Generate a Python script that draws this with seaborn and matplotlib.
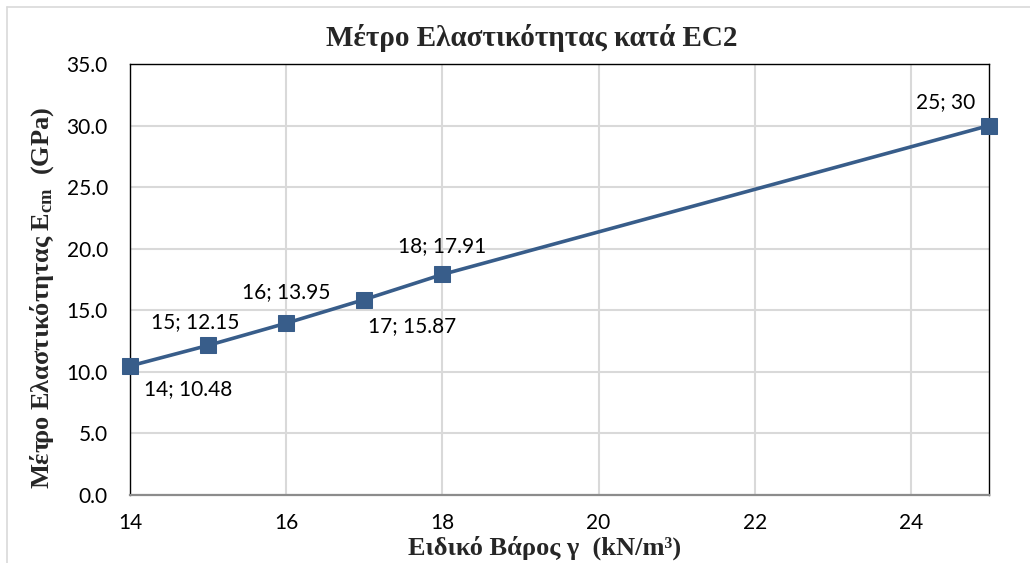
import matplotlib
matplotlib.use("Agg")
import matplotlib.pyplot as plt
import seaborn as sns
import pandas as pd
from matplotlib.lines import Line2D

# Data
gamma = [14, 15, 16, 17, 18, 25]
ecm = [10.48, 12.15, 13.95, 15.87, 17.91, 30]
point_labels = ["14; 10.48", "15; 12.15", "16; 13.95", "17; 15.87", "18; 17.91", "25; 30"]
x_ticks = [14, 16, 18, 20, 22, 24]
y_ticks = [0, 5, 10, 15, 20, 25, 30, 35]

title = "Μέτρο Ελαστικότητας κατά EC2"
xlabel = "Ειδικό Βάρος γ  (kN/m³)"
ylabel = r"Μέτρο Ελαστικότητας E$_{\rm cm}$  (GPa)"

sns.set_theme(style="white")
plt.rcParams["font.family"] = ["Lato", "DejaVu Sans"]
plt.rcParams["mathtext.fontset"] = "custom"
plt.rcParams["mathtext.rm"] = "Liberation Serif:bold"
plt.rcParams["mathtext.it"] = "Liberation Serif:bold"
plt.rcParams["mathtext.bf"] = "Liberation Serif:bold"

df = pd.DataFrame({"gamma": gamma, "ecm": ecm})

fig = plt.figure(figsize=(10.30, 5.63), dpi=100)
ax = fig.add_axes([130/1030, 1-495/563, (989-130)/1030, (495-64)/563])

line_color = "#385D8A"
sns.lineplot(data=df, x="gamma", y="ecm", ax=ax, color=line_color, linewidth=2.6,
             marker="s", markersize=11, markeredgecolor=line_color, markerfacecolor=line_color,
             clip_on=False, zorder=5)

ax.set_xlim(14, 25)
ax.set_ylim(0, 35)
ax.set_xticks(x_ticks)
ax.set_yticks(y_ticks)
ax.set_xticklabels([str(t) for t in x_ticks], fontsize=15)
ax.set_yticklabels([f"{t:.1f}" for t in y_ticks], fontsize=15)
ax.tick_params(axis="both", length=0, colors="black")
ax.tick_params(axis="x", pad=13)
ax.tick_params(axis="y", pad=16)

ax.grid(True, color="#d9d9d9", linewidth=1.5)
ax.set_axisbelow(True)

for s in ["left", "top", "right"]:
    ax.spines[s].set_color("black")
    ax.spines[s].set_linewidth(1.0)
    ax.spines[s].set_visible(True)
ax.spines["bottom"].set_color("#8c8c8c")
ax.spines["bottom"].set_linewidth(1.6)

offsets = [(58, -23), (-13, 23), (0, 31), (48, -27), (0, 28), (-43, 23)]
for x, y, lab, off in zip(gamma, ecm, point_labels, offsets):
    ax.annotate(lab, (x, y), xytext=off, textcoords="offset pixels",
                ha="center", va="center", fontsize=15, color="black")

ax.set_xlabel("")
ax.set_ylabel("")
fig.text(532/1030, 1-38/563, title, ha="center", va="center",
         fontsize=21, fontweight="bold", family="Liberation Serif")
fig.text(545/1030, 1-548/563, xlabel, ha="center", va="center",
         fontsize=19, fontweight="bold", family="Liberation Serif")
fig.text(42/1030, 1-298/563, ylabel, ha="center", va="center", rotation=90,
         fontsize=19, fontweight="bold", family="Liberation Serif")

# light frame around the chart area
fig.add_artist(Line2D([7/1030, 1], [1-7/563, 1-7/563], transform=fig.transFigure,
                      color="#d9d9d9", linewidth=1.2))
fig.add_artist(Line2D([7/1030, 7/1030], [0, 1-7/563], transform=fig.transFigure,
                      color="#d9d9d9", linewidth=1.2))

fig.savefig("out.png", dpi=100, facecolor="white")
